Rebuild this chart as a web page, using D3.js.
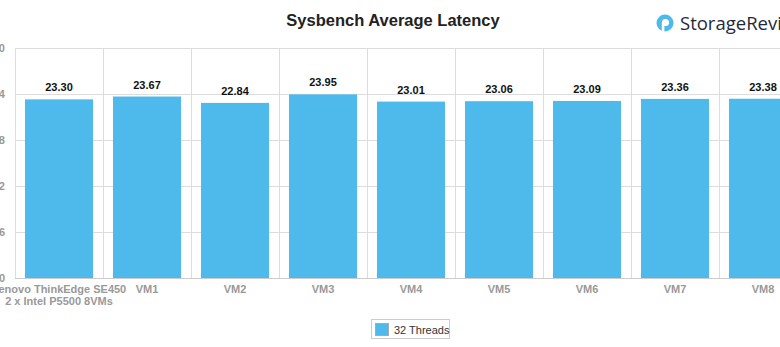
<!DOCTYPE html>
<html><head><meta charset="utf-8">
<script src="https://cdn.jsdelivr.net/npm/d3@7"></script>
<style>body{margin:0;background:#fff;} svg{display:block;}</style>
</head><body>
<svg id="c" width="780" height="347"></svg>
<script>
const categories = [["Lenovo ThinkEdge SE450","2 x Intel P5500 8VMs"],["VM1"],["VM2"],["VM3"],["VM4"],["VM5"],["VM6"],["VM7"],["VM8"]];
const values = [23.30, 23.67, 22.84, 23.95, 23.01, 23.06, 23.09, 23.36, 23.38];
const yTicks = [0, 6, 12, 18, 24, 30];
const seriesName = "32 Threads";
const title = "Sysbench Average Latency";

const svg = d3.select("#c");
const pLeft = 15, pTop = 48, pBottom = 278, step = 88;
const x = d3.scaleBand().domain(d3.range(categories.length))
  .range([pLeft, pLeft + step * categories.length]).paddingInner(0.227).paddingOuter(0.1135);
const y = d3.scaleLinear().domain([0, 30]).range([pBottom, pTop]);
const color = "#4dbaeb";

// horizontal grid
svg.append("g").selectAll("line").data(yTicks).join("line")
  .attr("x1", pLeft).attr("x2", 780).attr("y1", d => y(d)+0.5).attr("y2", d => y(d)+0.5)
  .attr("stroke", "#dddddd");
// vertical grid
svg.append("g").selectAll("line").data(d3.range(categories.length + 1)).join("line")
  .attr("x1", d => pLeft + step*d + 0.5).attr("x2", d => pLeft + step*d + 0.5)
  .attr("y1", pTop).attr("y2", pBottom).attr("stroke", "#dddddd");

// y labels (cut at left edge as in the reference)
svg.append("g").selectAll("text").data(yTicks).join("text")
  .attr("x", 5).attr("y", d => y(d) + 4).attr("text-anchor", "end")
  .attr("font-family", "Liberation Sans, Arial, sans-serif").attr("font-size", 11)
  .attr("font-weight", "bold").attr("fill", "#999").text(d => d);

// bars
svg.append("g").selectAll("rect").data(values).join("rect")
  .attr("x", (d,i) => x(i)).attr("width", x.bandwidth())
  .attr("y", d => y(d)).attr("height", d => pBottom - y(d)).attr("fill", color);

// axis line
svg.append("line").attr("x1", pLeft).attr("x2", 780).attr("y1", pBottom+0.5).attr("y2", pBottom+0.5).attr("stroke", "#cccccc");

// data labels
svg.append("g").selectAll("text").data(values).join("text")
  .attr("x", (d,i) => x(i) + x.bandwidth()/2).attr("y", d => y(d) - 8)
  .attr("text-anchor", "middle").attr("font-family", "Liberation Sans, Arial, sans-serif")
  .attr("font-size", 11).attr("font-weight", "bold").attr("fill", "#111")
  .text(d => d.toFixed(2));

// x labels
const xl = svg.append("g").selectAll("text").data(categories).join("text")
  .attr("text-anchor", "middle").attr("font-family", "Liberation Sans, Arial, sans-serif")
  .attr("font-size", 11).attr("font-weight", "bold").attr("fill", "#999");
xl.each(function(d,i){
  const t = d3.select(this);
  d.forEach((ln,j) => t.append("tspan").attr("x", x(i)+x.bandwidth()/2).attr("y", 293 + j*12).text(ln));
});

// title
svg.append("text").attr("x", 393).attr("y", 26).attr("text-anchor", "middle")
  .attr("font-family", "Liberation Sans, Arial, sans-serif").attr("font-size", 16.5)
  .attr("font-weight", "bold").attr("fill", "#222").text(title);

// logo
const lg = svg.append("g").attr("transform", "translate(665,23)");
lg.append("circle").attr("r", 8.5).attr("fill", "#4dbaeb");
lg.append("circle").attr("r", 3.6).attr("cx", 0.5).attr("cy", -0.5).attr("fill", "#fff");
lg.append("rect").attr("x", -3.2).attr("y", 0).attr("width", 2.6).attr("height", 9).attr("fill", "#fff");
svg.append("text").attr("x", 680).attr("y", 29.5).attr("font-family", "Open Sans, sans-serif")
  .attr("font-size", 18.5).attr("fill", "#1d2b3a").text("StorageReview");

// legend
const leg = svg.append("g");
leg.append("rect").attr("x", 371.5).attr("y", 319.5).attr("width", 78).attr("height", 19)
  .attr("fill", "#fff").attr("stroke", "#cccccc");
leg.append("rect").attr("x", 375.5).attr("y", 323.5).attr("width", 13).attr("height", 12)
  .attr("fill", color).attr("stroke", "#aaa");
leg.append("text").attr("x", 394).attr("y", 333.5).attr("font-family", "Liberation Sans, Arial, sans-serif")
  .attr("font-size", 11).attr("fill", "#333").text(seriesName);
</script>
</body></html>
